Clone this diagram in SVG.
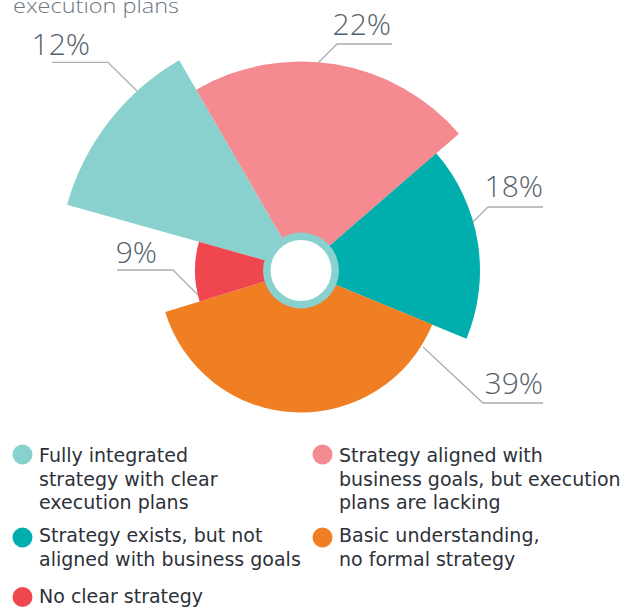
<svg xmlns="http://www.w3.org/2000/svg" width="630" height="608" viewBox="0 0 630 608">
<style>
.pct{font-family:"Open Sans","Liberation Sans",sans-serif;font-weight:300;font-size:30px;fill:#56616c;text-anchor:end}
.lg{font-family:"DejaVu Sans","Liberation Sans",sans-serif;font-size:19px;fill:#2d3139}
.ttl{font-family:"Open Sans","Liberation Sans",sans-serif;font-weight:300;font-size:21px;fill:#6c7680}
.ld{fill:none;stroke:#a9aeb3;stroke-width:1.3}
</style>
<rect width="630" height="608" fill="#ffffff"/>
<text class="ttl" x="13" y="13" textLength="166" lengthAdjust="spacingAndGlyphs">execution plans</text>
<g id="slice-fully"><path d="M301,270.5 L67.07,204.74 A243,243 0 0 1 179.13,60.27 Z" fill="#88d1ce"/></g>
<g id="slice-aligned"><path d="M301,270.5 L196.18,89.68 A209,209 0 0 1 458.97,133.66 Z" fill="#f48b90"/></g>
<g id="slice-exists"><path d="M301,270.5 L436.30,153.30 A179,179 0 0 1 466.49,338.71 Z" fill="#00aeae"/></g>
<g id="slice-basic"><path d="M301,270.5 L432.29,324.61 A142,142 0 0 1 165.21,312.02 Z" fill="#f07f23"/></g>
<g id="slice-none"><path d="M301,270.5 L199.63,301.49 A106,106 0 0 1 198.95,241.82 Z" fill="#ef4650"/></g>
<g id="hub"><circle cx="301" cy="270.5" r="38" fill="#88d1ce"/><circle cx="301" cy="270.5" r="30.5" fill="#ffffff"/></g>
<g id="connectors">
<polyline class="ld" points="52,62.3 108,62.3 137,91"/>
<polyline class="ld" points="392,44 337,44 318.5,62.5"/>
<polyline class="ld" points="543,207 488,207 473,222"/>
<polyline class="ld" points="423,347 483,403 543,403"/>
<polyline class="ld" points="117,270 173,270 198,295"/>
</g>
<g id="labels">
<text class="pct" x="90" y="55">12%</text>
<text class="pct" x="391" y="35">22%</text>
<text class="pct" x="543" y="197">18%</text>
<text class="pct" x="543" y="394">39%</text>
<text class="pct" x="157" y="263">9%</text>
</g>
<g id="legend-fully"><circle cx="22.5" cy="454.5" r="10" fill="#88d1ce"/>
<text class="lg" x="39" y="462">Fully integrated</text>
<text class="lg" x="39" y="485.5">strategy with clear</text>
<text class="lg" x="39" y="509">execution plans</text></g>
<g id="legend-aligned"><circle cx="322.5" cy="454.5" r="10" fill="#f48b90"/>
<text class="lg" x="339" y="462">Strategy aligned with</text>
<text class="lg" x="339" y="485.5">business goals, but execution</text>
<text class="lg" x="339" y="509">plans are lacking</text></g>
<g id="legend-exists"><circle cx="22.5" cy="537.5" r="10" fill="#00aeae"/>
<text class="lg" x="39" y="542">Strategy exists, but not</text>
<text class="lg" x="39" y="565.5">aligned with business goals</text></g>
<g id="legend-basic"><circle cx="322.5" cy="537.5" r="10" fill="#f07f23"/>
<text class="lg" x="339" y="542">Basic understanding,</text>
<text class="lg" x="339" y="565.5">no formal strategy</text></g>
<g id="legend-none"><circle cx="22.5" cy="597" r="10" fill="#ef4650"/>
<text class="lg" x="39" y="603">No clear strategy</text></g>
</svg>
